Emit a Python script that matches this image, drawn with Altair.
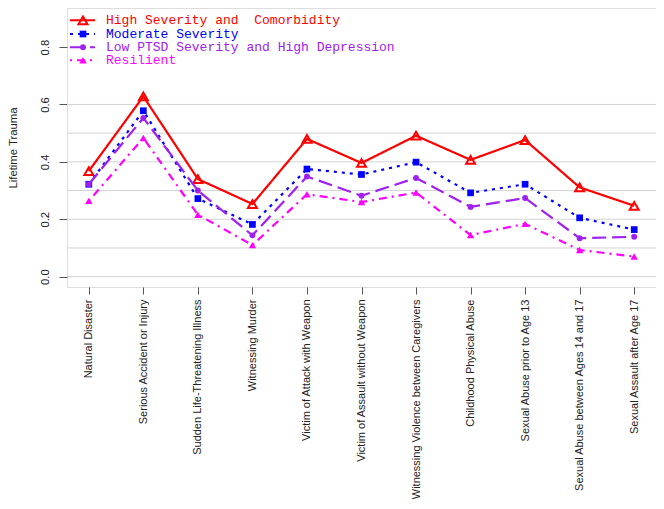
import altair as alt
import pandas as pd

categories = [
    "Natural Disaster",
    "Serious Accident or Injury",
    "Sudden Life-Threatening Illness",
    "Witnessing Murder",
    "Victim of Attack with Weapon",
    "Victim of Assault without Weapon",
    "Witnessing Violence between Caregivers",
    "Childhood Physical Abuse",
    "Sexual Abuse prior to Age 13",
    "Sexual Abuse between Ages 14 and 17",
    "Sexual Assault after Age 17",
]

series_names = [
    "High Severity and  Comorbidity",
    "Moderate Severity",
    "Low PTSD Severity and High Depression",
    "Resilient",
]

high = [0.368, 0.628, 0.340, 0.253, 0.480, 0.396, 0.491, 0.407, 0.476, 0.311, 0.247]
moderate = [0.322, 0.578, 0.272, 0.182, 0.375, 0.356, 0.399, 0.292, 0.322, 0.205, 0.164]
low_ptsd = [0.322, 0.553, 0.300, 0.144, 0.349, 0.282, 0.344, 0.243, 0.274, 0.134, 0.139]
resilient = [0.264, 0.483, 0.216, 0.110, 0.287, 0.260, 0.293, 0.145, 0.184, 0.093, 0.070]

grid_values = [0.0, 0.1, 0.2, 0.3, 0.4, 0.5, 0.6]
y_ticks = [0.0, 0.2, 0.4, 0.6, 0.8]

colors = ["#FF0000", "#0000FF", "#A020F0", "#FF00FF"]
dashes = [[1, 0], [3, 5], [14, 6], [2, 5, 8, 5]]
shapes = ["triangle-up", "square", "circle", "triangle-up"]
filled = [False, True, True, True]
sizes = [80, 45, 35, 55]

values = [high, moderate, low_ptsd, resilient]

W, H = 589, 279
xscale = alt.Scale(type="point", domain=categories, padding=0.4)
yscale = alt.Scale(domain=[-0.036, 0.936], nice=False, zero=False)

# axes layer (first, carries the axis definitions)
axis_df = pd.DataFrame({"cat": categories, "val": [0.0] * len(categories)})
axes_layer = alt.Chart(axis_df).mark_point(opacity=0).encode(
    x=alt.X(
        "cat:N", scale=xscale, sort=categories,
        axis=alt.Axis(
            title=None, labelAngle=270, labelAlign="right", labelBaseline="middle",
            labelPadding=5, tickSize=7, domain=False, grid=False,
            labelFont="Liberation Sans", labelFontSize=11, labelColor="#222",
            tickColor="#555", labelLimit=400,
        ),
    ),
    y=alt.Y(
        "val:Q", scale=yscale,
        axis=alt.Axis(
            title="Lifetime Trauma", values=y_ticks, format=".1f",
            labelAngle=270, labelAlign="center", labelBaseline="bottom",
            labelPadding=9, tickSize=8, domain=False, grid=False,
            labelFont="Liberation Sans", labelFontSize=11.3, labelColor="#222",
            tickColor="#555",
            titleFont="Liberation Sans", titleFontSize=11.3, titleFontWeight="normal",
            titleColor="#222", titleAngle=270, titleAlign="center",
            titleBaseline="middle", titleX=-54, titleY=H / 2,
        ),
    ),
)

grid_df = pd.DataFrame({"val": grid_values})
grid = alt.Chart(grid_df).mark_rule(color="#D3D3D3", strokeWidth=1).encode(
    y=alt.Y("val:Q", scale=yscale)
)

layers = [axes_layer, grid]

for i, name in enumerate(series_names):
    df = pd.DataFrame({"cat": categories, "val": values[i]})
    base = alt.Chart(df).encode(
        x=alt.X("cat:N", scale=xscale, sort=categories),
        y=alt.Y("val:Q", scale=yscale),
    )
    line = base.mark_line(color=colors[i], strokeWidth=2.2, strokeDash=dashes[i])
    pts = base.mark_point(
        shape=shapes[i], filled=filled[i], color=colors[i], size=sizes[i],
        strokeWidth=2 if not filled[i] else 1, opacity=1,
    )
    layers += [line, pts]

# legend
row_y = [12.3, 26, 39.3, 52.3]
for i, name in enumerate(series_names):
    ldf = pd.DataFrame({"label": [name.replace("  ", " \u00a0")]})
    lb = alt.Chart(ldf)
    seg = lb.mark_rule(color=colors[i], strokeWidth=2, strokeDash=dashes[i]).encode(
        x=alt.value(3), x2=alt.value(28), y=alt.value(row_y[i])
    )
    mk = lb.mark_point(
        shape=shapes[i], filled=filled[i], color=colors[i], size=sizes[i],
        strokeWidth=2 if not filled[i] else 1, opacity=1,
    ).encode(x=alt.value(16), y=alt.value(row_y[i]))
    tx = lb.mark_text(
        align="left", baseline="middle", font="Liberation Mono", fontSize=13,
        color=colors[i],
    ).encode(x=alt.value(39), y=alt.value(row_y[i]), text="label:N")
    layers += [seg, mk, tx]

chart = alt.layer(*layers).properties(
    width=W, height=H,
    autosize=alt.AutoSizeParams(type="none"),
    padding={"left": 59, "top": 0, "right": 0, "bottom": 214},
).configure_view(stroke="#555", strokeWidth=1.2).configure(background="white")

chart.save("out.html", embed_options={"renderer": "svg", "actions": False})
